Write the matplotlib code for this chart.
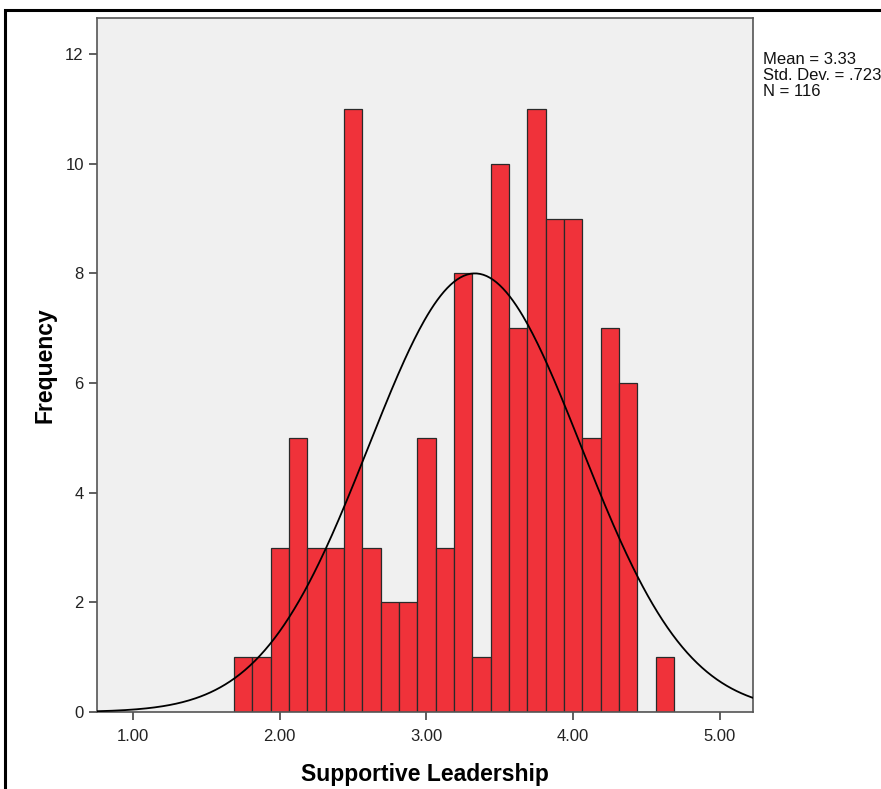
import numpy as np
import matplotlib
matplotlib.use("Agg")
import matplotlib.pyplot as plt
from matplotlib.patches import Rectangle

plt.rcParams['font.family'] = ['Liberation Sans', 'DejaVu Sans']

# histogram data (bin width 0.125)
bin_start = 1.6875
bin_width = 0.125
counts = [1, 1, 3, 5, 3, 3, 11, 3, 2, 2, 5, 3, 8, 1, 10, 7, 11, 9, 9, 5, 7, 6, 0, 1]
mean = 3.33
sd = 0.723
n = 116

xticks = [1, 2, 3, 4, 5]
xtick_labels = ["1.00", "2.00", "3.00", "4.00", "5.00"]
yticks = [0, 2, 4, 6, 8, 10, 12]

fig = plt.figure(figsize=(8.81, 7.89), dpi=100)

# outer black frame (runs off the right and bottom edges)
fig.patches.append(Rectangle((5 / 881, -0.05), 1.0, 1 - 10 / 789 + 0.05,
                             transform=fig.transFigure, fill=False,
                             edgecolor='black', linewidth=2.2))

ax = fig.add_axes([97 / 881, 77 / 789, 656 / 881, 694 / 789])
ax.set_facecolor('#f0f0f0')

edges = bin_start + bin_width * np.arange(len(counts))
ax.bar(edges, counts, width=bin_width, align='edge', color='#f0323a',
       edgecolor='#2a2a2a', linewidth=0.9, zorder=2)

xmin, xmax = 0.755, 5.225
xs = np.linspace(xmin, xmax, 400)
pdf = n * bin_width / (sd * np.sqrt(2 * np.pi)) * np.exp(-0.5 * ((xs - mean) / sd) ** 2)
ax.plot(xs, pdf, color='black', linewidth=1.3, zorder=3)

ax.set_xlim(xmin, xmax)
ax.set_ylim(0, 12.66)
ax.set_xticks(xticks)
ax.set_xticklabels(xtick_labels)
ax.set_yticks(yticks)
ax.tick_params(axis='both', direction='out', length=6, width=1.2,
               color='#444444', labelsize=12, labelcolor='#222222')
ax.tick_params(axis='x', pad=6)
for s in ax.spines.values():
    s.set_color('#555555')
    s.set_linewidth(1.2)

ax.set_xlabel('Supportive Leadership', fontsize=16.5, fontweight='bold', labelpad=14)
ax.set_ylabel('Frequency', fontsize=16.5, fontweight='bold', labelpad=6)

fig.text(763 / 881, 1 - 52 / 789, "Mean = 3.33\nStd. Dev. = .723\nN = 116",
         fontsize=12, va='top', ha='left', linespacing=1.1, color='#111111')

fig.savefig('out.png', dpi=100)
